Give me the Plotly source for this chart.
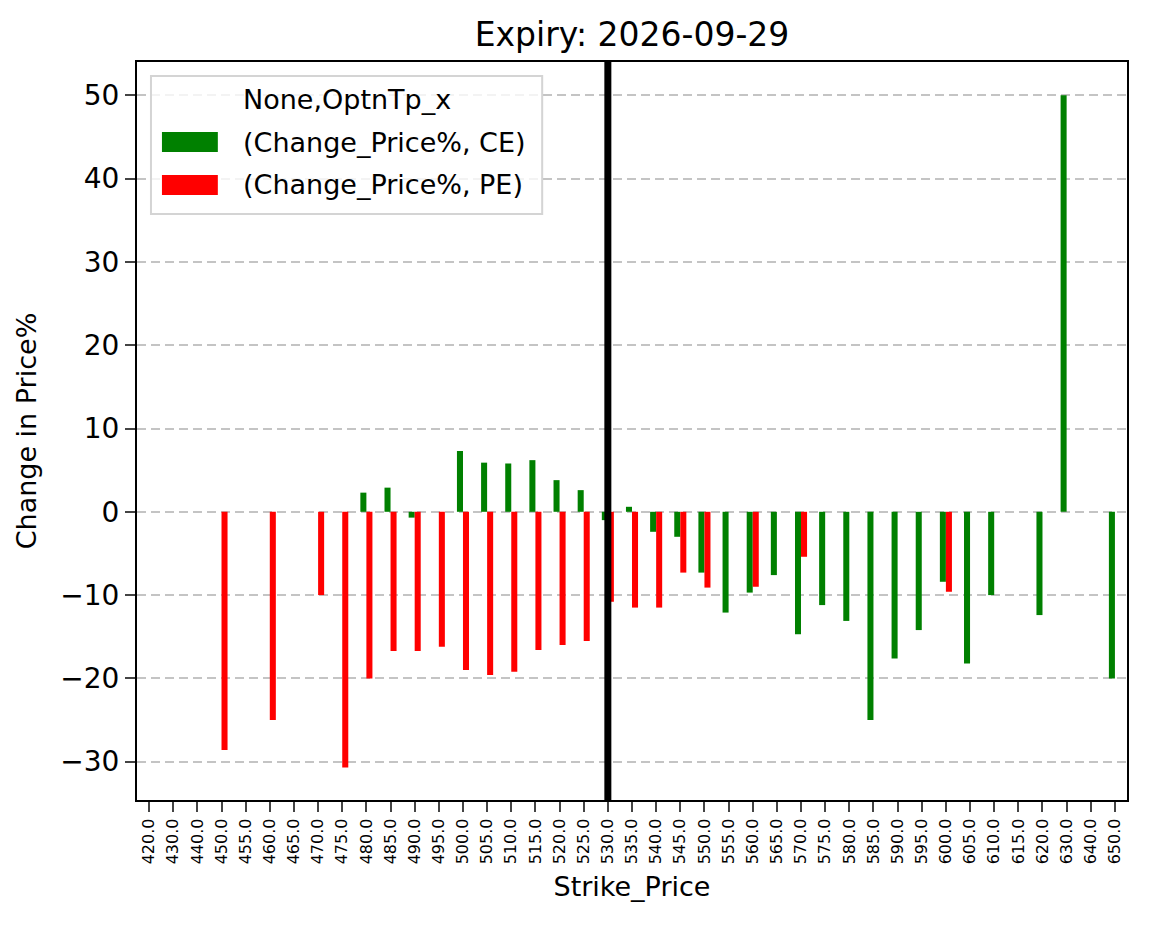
import plotly.graph_objects as go

# --- données ---
STRIKES = ["420.0", "430.0", "440.0", "450.0", "455.0", "460.0", "465.0", "470.0",
           "475.0", "480.0", "485.0", "490.0", "495.0", "500.0", "505.0", "510.0",
           "515.0", "520.0", "525.0", "530.0", "535.0", "540.0", "545.0", "550.0",
           "555.0", "560.0", "565.0", "570.0", "575.0", "580.0", "585.0", "590.0",
           "595.0", "600.0", "605.0", "610.0", "615.0", "620.0", "630.0", "640.0",
           "650.0"]

CE_CHANGE = [None, None, None, None, None, None, None, None,
             None, 2.3, 2.9, -0.7, None, 7.3, 5.9, 5.8,
             6.2, 3.8, 2.6, -1.0, 0.6, -2.4, -3.0, -7.3,
             -12.1, -9.7, -7.6, -14.7, -11.2, -13.1, -25.0, -17.6,
             -14.2, -8.4, -18.2, -10.0, None, -12.4, 50.0, None,
             -20.0]

PE_CHANGE = [None, None, None, -28.6, None, -25.0, None, -10.0,
             -30.7, -20.0, -16.7, -16.7, -16.2, -19.0, -19.6, -19.2,
             -16.6, -16.0, -15.5, -10.8, -11.5, -11.5, -7.3, -9.1,
             None, -9.0, None, -5.4, None, None, None, None,
             None, -9.6, None, None, None, None, None, None,
             None]

SERIES_NAMES = ["(Change_Price%, CE)", "(Change_Price%, PE)"]
SERIES_COLORS = ["#008000", "#ff0000"]
LEGEND_TITLE = "None,OptnTp_x"

ATM_STRIKE = "530.0"
EXPIRY = "2026-09-29"

FONT = "DejaVu Sans"

# géométrie de la zone de tracé (pixels de la page)
PLOT_L, PLOT_R, PLOT_T, PLOT_B = 137, 1129, 62, 800


def px_x(x):
    return (x - PLOT_L) / (PLOT_R - PLOT_L)


def px_y(y):
    return (PLOT_B - y) / (PLOT_B - PLOT_T)


fig = go.Figure()
for vals, name, col in zip([CE_CHANGE, PE_CHANGE], SERIES_NAMES, SERIES_COLORS):
    fig.add_trace(go.Bar(x=STRIKES, y=vals, name=name, showlegend=False,
                         marker=dict(color=col, line=dict(width=0))))

# ligne verticale au strike ATM
atm_idx = STRIKES.index(ATM_STRIKE)
fig.add_shape(type="line", xref="x", yref="paper", layer="above", opacity=1,
              x0=atm_idx, x1=atm_idx, y0=0, y1=1,
              line=dict(color="black", width=7))

# --- légende façon matplotlib (cadre, rectangles, textes) ---
fig.add_shape(type="rect", xref="paper", yref="paper", layer="above", opacity=1,
              x0=px_x(151), x1=px_x(543), y0=px_y(214), y1=px_y(76),
              fillcolor="rgba(255,255,255,0.8)", line=dict(color="#d4d4d4", width=2))
fig.add_annotation(xref="paper", yref="paper", x=px_x(241), y=px_y(100),
                   text=LEGEND_TITLE, showarrow=False, xanchor="left", yanchor="middle",
                   font=dict(size=27))
for i, (name, col) in enumerate(zip(SERIES_NAMES, SERIES_COLORS)):
    cy = 142 + 43 * i
    fig.add_shape(type="rect", xref="paper", yref="paper", layer="above", opacity=1,
                  x0=px_x(162), x1=px_x(218), y0=px_y(cy + 10), y1=px_y(cy - 10),
                  fillcolor=col, line=dict(width=0))
    fig.add_annotation(xref="paper", yref="paper", x=px_x(241), y=px_y(cy),
                       text=name, showarrow=False, xanchor="left", yanchor="middle",
                       font=dict(size=27))

# la page ajoute 8px de marge au body : on compense
fig.update_layout(
    width=1133, height=912,
    template="simple_white",
    font=dict(family=FONT, size=27, color="black"),
    barmode="group", bargap=0.5, bargroupgap=0,
    showlegend=False,
    title=dict(text="Expiry: " + EXPIRY, x=0.5, xref="paper", xanchor="center",
               y=0.9715, yanchor="middle", font=dict(size=33)),
    margin=dict(l=PLOT_L - 8, r=1141 - PLOT_R, t=PLOT_T - 8, b=920 - PLOT_B),
    plot_bgcolor="white", paper_bgcolor="white",
    xaxis=dict(
        type="category", categoryorder="array", categoryarray=STRIKES,
        range=[-0.5, len(STRIKES) - 0.5],
        tickangle=-90, tickfont=dict(size=16),
        ticks="outside", ticklen=10, tickwidth=2.2,
        showline=True, linewidth=2.2, linecolor="black", mirror=True,
        showgrid=False, zeroline=False,
        title=dict(text="Strike_Price", font=dict(size=27), standoff=14),
    ),
    yaxis=dict(
        range=[-34.6, 54.0], dtick=10,
        tickfont=dict(size=28),
        ticks="outside", ticklen=10, tickwidth=2.2,
        showline=True, linewidth=2.2, linecolor="black", mirror=True,
        showgrid=True, gridcolor="#c4c4c4", griddash="9px,5px", gridwidth=2,
        zeroline=False,
        title=dict(text="Change in Price%", font=dict(size=27), standoff=16),
    ),
)

fig.write_html("out.html")
